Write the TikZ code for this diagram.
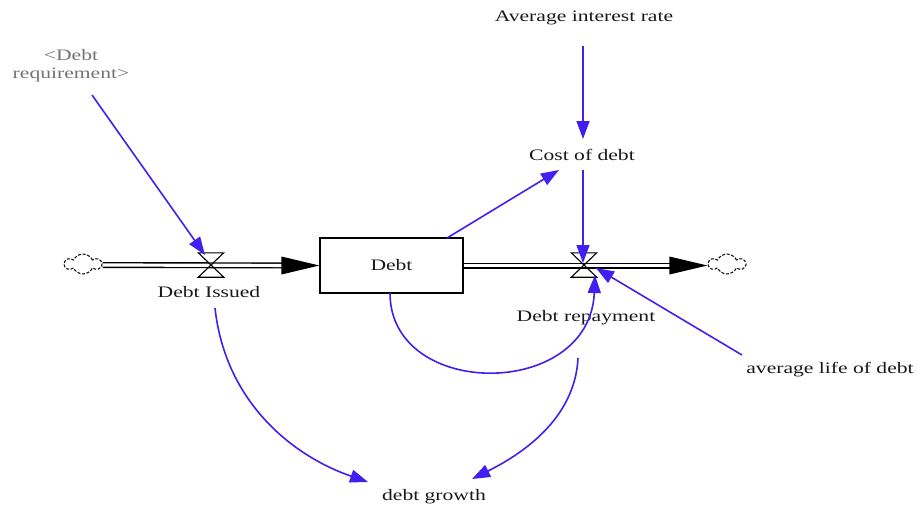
\documentclass[tikz,border=0pt]{standalone}
\usepackage{fontspec}
\setmainfont[FakeStretch=1.35]{Liberation Serif}
\usetikzlibrary{arrows.meta,shapes.symbols}
\definecolor{lk}{RGB}{64,32,240}
\begin{document}
\begin{tikzpicture}[x=1pt,y=-1pt,
  lbl/.style={font=\fontsize{16}{18}\selectfont, inner sep=1pt, text=black!90},
  link/.style={draw=lk, line width=1.6pt, -{Triangle[length=18pt,width=13pt]}},
  pipe/.style={draw=black, double=white, double distance=3.2pt, line width=1.4pt},
  valvebox/.style={minimum width=25pt, minimum height=24pt, inner sep=0pt},
  cloudsh/.style={cloud, cloud puffs=6, cloud puff arc=130, aspect=1.9, draw,
    dash pattern=on 3pt off 1.6pt, line width=1pt,
    minimum width=36pt, minimum height=20pt, inner sep=0pt},
  stockbox/.style={draw, line width=1.2pt, minimum width=143pt, minimum height=55pt, inner sep=0pt}
]
\useasboundingbox (0,0) rectangle (920,512);

% clouds, stock, valves
\node[cloudsh] (cL) at (83,264) {};
\node[cloudsh] (cR) at (727,264) {};
\node[stockbox, lbl] (debt) at (391.5,265.5) {Debt};
\node[valvebox] (vI) at (211,265) {};
\node[valvebox] (vR) at (584,265) {};

% pipes
\draw[pipe, shorten >=37pt] (cL.east |- 0,265) -- (debt.west);
\fill (debt.west) -- ++(-38,-9) -- ++(0,18) -- cycle;
\draw[pipe, shorten >=37pt] (debt.east) -- (cR.west |- 0,265.5);
\fill (cR.west |- 0,265.5) -- ++(-38,-9) -- ++(0,18) -- cycle;

\draw[line width=1.1pt] (vI.north west) -- (vI.north east) -- (vI.south west) -- (vI.south east) -- cycle;
\draw[line width=1.1pt] (vR.north west) -- (vR.north east) -- (vR.south west) -- (vR.south east) -- cycle;

% labels
\node[lbl] (lI) at (209,292) {Debt Issued};
\node[lbl] (lR) at (586,318) {Debt repayment};
\node[lbl] (air) at (584,18) {Average interest rate};
\node[lbl] (cod) at (582,155) {Cost of debt};
\node[lbl] (ald) at (830,370) {average life of debt};
\node[lbl] (dg) at (434,497) {debt growth};
\node[lbl, text=black!55, align=center] (req) at (71,66) {<Debt\\requirement>};

% links
\draw[link] ([shift={(21,29)}]req.center) -- ([shift={(-6,-10)}]vI.center);
\draw[link] ([shift={(-1,28)}]air.center) -- ([shift={(1,-16)}]cod.center);
\draw[link] ([shift={(55.5,-27.5)}]debt.center) -- ([shift={(-23,15)}]cod.center);
\draw[link] ([shift={(1,15)}]cod.center) -- ([shift={(-1,-2)}]vR.center);
\draw[link] ([shift={(-88,-15)}]ald.center) -- ([shift={(12,3)}]vR.center);
\draw[link] ([shift={(-1.5,27.5)}]debt.center) .. controls +(0,107) and +(-5,125) .. ([shift={(11,10)}]vR.center);
\draw[link] ([shift={(6,16)}]lI.center) .. controls +(10,92) and +(-78,-27) .. ([shift={(-66,-15)}]dg.center);
\draw[link] ([shift={(-8,40)}]lR.center) .. controls +(-3,62) and +(48,-24) .. ([shift={(38,-18)}]dg.center);
\end{tikzpicture}
\end{document}
